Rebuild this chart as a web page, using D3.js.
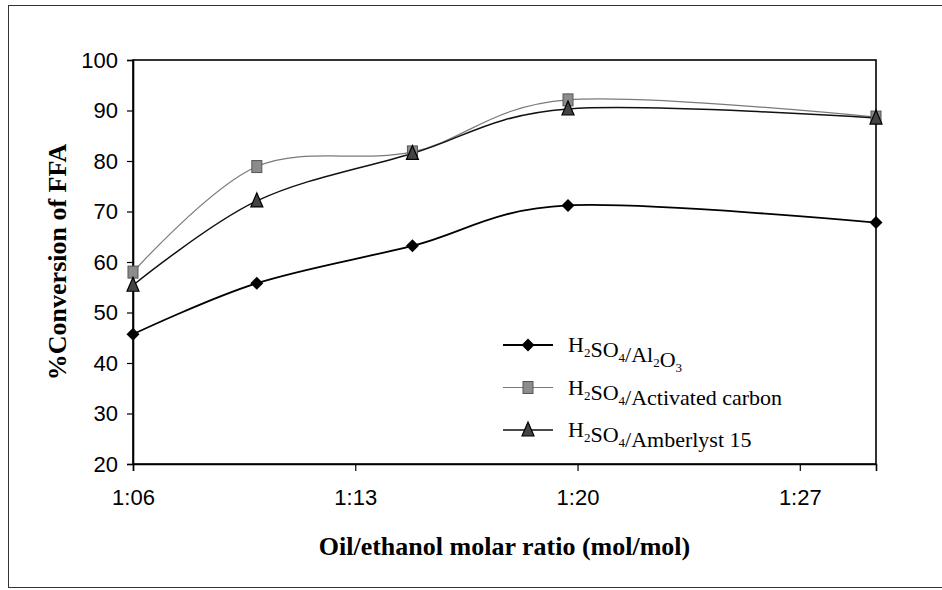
<!DOCTYPE html>
<html>
<head>
<meta charset="utf-8">
<script src="https://cdn.jsdelivr.net/npm/d3@7"></script>
<style>
  body { margin: 0; background: #fff; }
  svg { display: block; }
</style>
</head>
<body>
<svg width="942" height="590"></svg>
<script>
// oil/ethanol ratio (1:x)
var ratios = [6, 9.9, 14.8, 19.7, 29.4];
var alumina = [45.7, 55.8, 63.2, 71.2, 67.8];
var carbon = [58.0, 78.9, 81.8, 92.1, 88.7];
var amberlyst = [55.4, 72.1, 81.5, 90.3, 88.5];
var xTicks = [6, 13, 20, 27];
var yTicks = [20, 30, 40, 50, 60, 70, 80, 90, 100];

var series = [
  {name: "alumina", values: alumina, stroke: "#000", width: 1.8, marker: "diamond"},
  {name: "carbon", values: carbon, stroke: "#7a7a7a", width: 1.2, marker: "square"},
  {name: "amberlyst", values: amberlyst, stroke: "#111", width: 1.5, marker: "triangle"}
];

var svg = d3.select("svg"),
    margin = {top: 60, right: 66, bottom: 126, left: 133},
    width = +svg.attr("width") - margin.left - margin.right,
    height = +svg.attr("height") - margin.top - margin.bottom;

// outer frame (right side runs off the picture)
svg.append("rect")
    .attr("x", 8.5).attr("y", 5.5)
    .attr("width", 940).attr("height", 582)
    .attr("fill", "none")
    .attr("stroke", "#333")
    .attr("stroke-width", 1);

var g = svg.append("g").attr("transform", "translate(" + margin.left + "," + margin.top + ")");

var x = d3.scaleLinear().domain([6, 29.4]).range([0, width]);
var y = d3.scaleLinear().domain([20, 100]).range([height, 0]);

// plot frame
g.append("rect")
    .attr("width", width).attr("height", height)
    .attr("fill", "none")
    .attr("stroke", "#000")
    .attr("stroke-width", 1.6);

var fmt = function(d) { return "1:" + (d < 10 ? "0" + d : d); };

var xAxis = g.append("g")
    .attr("transform", "translate(0," + height + ")")
    .call(d3.axisBottom(x).tickValues(xTicks).tickFormat(fmt).tickSize(7).tickPadding(18));

var yAxis = g.append("g")
    .call(d3.axisLeft(y).tickValues(yTicks).tickSize(6).tickPadding(9));

[xAxis, yAxis].forEach(function(a) {
  a.select(".domain").attr("stroke", "#000").attr("stroke-width", 1.6);
  a.selectAll(".tick line").attr("stroke", "#000").attr("stroke-width", 1.2);
  a.selectAll("text")
    .attr("fill", "#000")
    .style("font-family", "'Liberation Sans', Arial, sans-serif")
    .style("font-size", "22px");
});

// smoothed lines like the spreadsheet
var line = d3.line()
    .x(function(d, i) { return x(ratios[i]); })
    .y(function(d) { return y(d); })
    .curve(d3.curveCatmullRom.alpha(0));

g.selectAll(".series")
  .data(series)
  .enter().append("path")
    .attr("class", "series")
    .attr("fill", "none")
    .attr("stroke", function(d) { return d.stroke; })
    .attr("stroke-width", function(d) { return d.width; })
    .attr("d", function(d) { return line(d.values); });

function drawMarker(sel, type) {
  if (type == "diamond") {
    sel.append("path").attr("d", "M0,-6.5L6.5,0L0,6.5L-6.5,0Z").attr("fill", "#000");
  } else if (type == "square") {
    sel.append("rect").attr("x", -5).attr("y", -6).attr("width", 10).attr("height", 12)
      .attr("fill", "#8c8c8c").attr("stroke", "#555").attr("stroke-width", 1);
  } else {
    sel.append("path").attr("d", "M0,-8L6,6L-6,6Z")
      .attr("fill", "#444").attr("stroke", "#000").attr("stroke-width", 1.2);
  }
}

series.forEach(function(s) {
  g.selectAll(".m-" + s.name)
    .data(s.values)
    .enter().append("g")
      .attr("class", "m-" + s.name)
      .attr("transform", function(d, i) { return "translate(" + x(ratios[i]) + "," + y(d) + ")"; })
      .each(function() { drawMarker(d3.select(this), s.marker); });
});

// axis titles
svg.append("text")
    .attr("x", margin.left + width / 2)
    .attr("y", 555)
    .attr("text-anchor", "middle")
    .style("font-family", "'Liberation Serif', 'Times New Roman', serif")
    .style("font-weight", "bold")
    .style("font-size", "26px")
    .text("Oil/ethanol molar ratio (mol/mol)");

svg.append("text")
    .attr("transform", "translate(66," + (margin.top + height / 2) + ") rotate(-90)")
    .attr("text-anchor", "middle")
    .style("font-family", "'Liberation Serif', 'Times New Roman', serif")
    .style("font-weight", "bold")
    .style("font-size", "26px")
    .text("%Conversion of FFA");

// legend
var labels = [
  [["H", 0], ["2", 1], ["SO", 0], ["4", 1], ["/Al", 0], ["2", 1], ["O", 0], ["3", 1]],
  [["H", 0], ["2", 1], ["SO", 0], ["4", 1], ["/Activated carbon", 0]],
  [["H", 0], ["2", 1], ["SO", 0], ["4", 1], ["/Amberlyst 15", 0]]
];

var legend = svg.append("g")
    .attr("transform", "translate(503,345)")
  .selectAll("g")
  .data(series)
  .enter().append("g")
    .attr("transform", function(d, i) { return "translate(0," + i * 42.5 + ")"; });

legend.append("line")
    .attr("x1", 0).attr("x2", 50)
    .attr("stroke", function(d) { return d.stroke; })
    .attr("stroke-width", function(d) { return d.width; });

legend.append("g")
    .attr("transform", "translate(25,0)")
    .each(function(d) { drawMarker(d3.select(this), d.marker); });

legend.append("text")
    .attr("x", 65)
    .attr("y", 7)
    .style("font-family", "'Liberation Serif', 'Times New Roman', serif")
    .style("font-size", "22px")
    .each(function(d, i) {
      var t = d3.select(this);
      labels[i].forEach(function(p) {
        t.append("tspan")
          .attr("dy", p[1] ? 5 : 0)
          .style("font-size", p[1] ? "13px" : "22px")
          .text(p[0]);
        if (p[1]) t.append("tspan").attr("dy", -5).text("");
      });
    });
</script>
</body>
</html>
